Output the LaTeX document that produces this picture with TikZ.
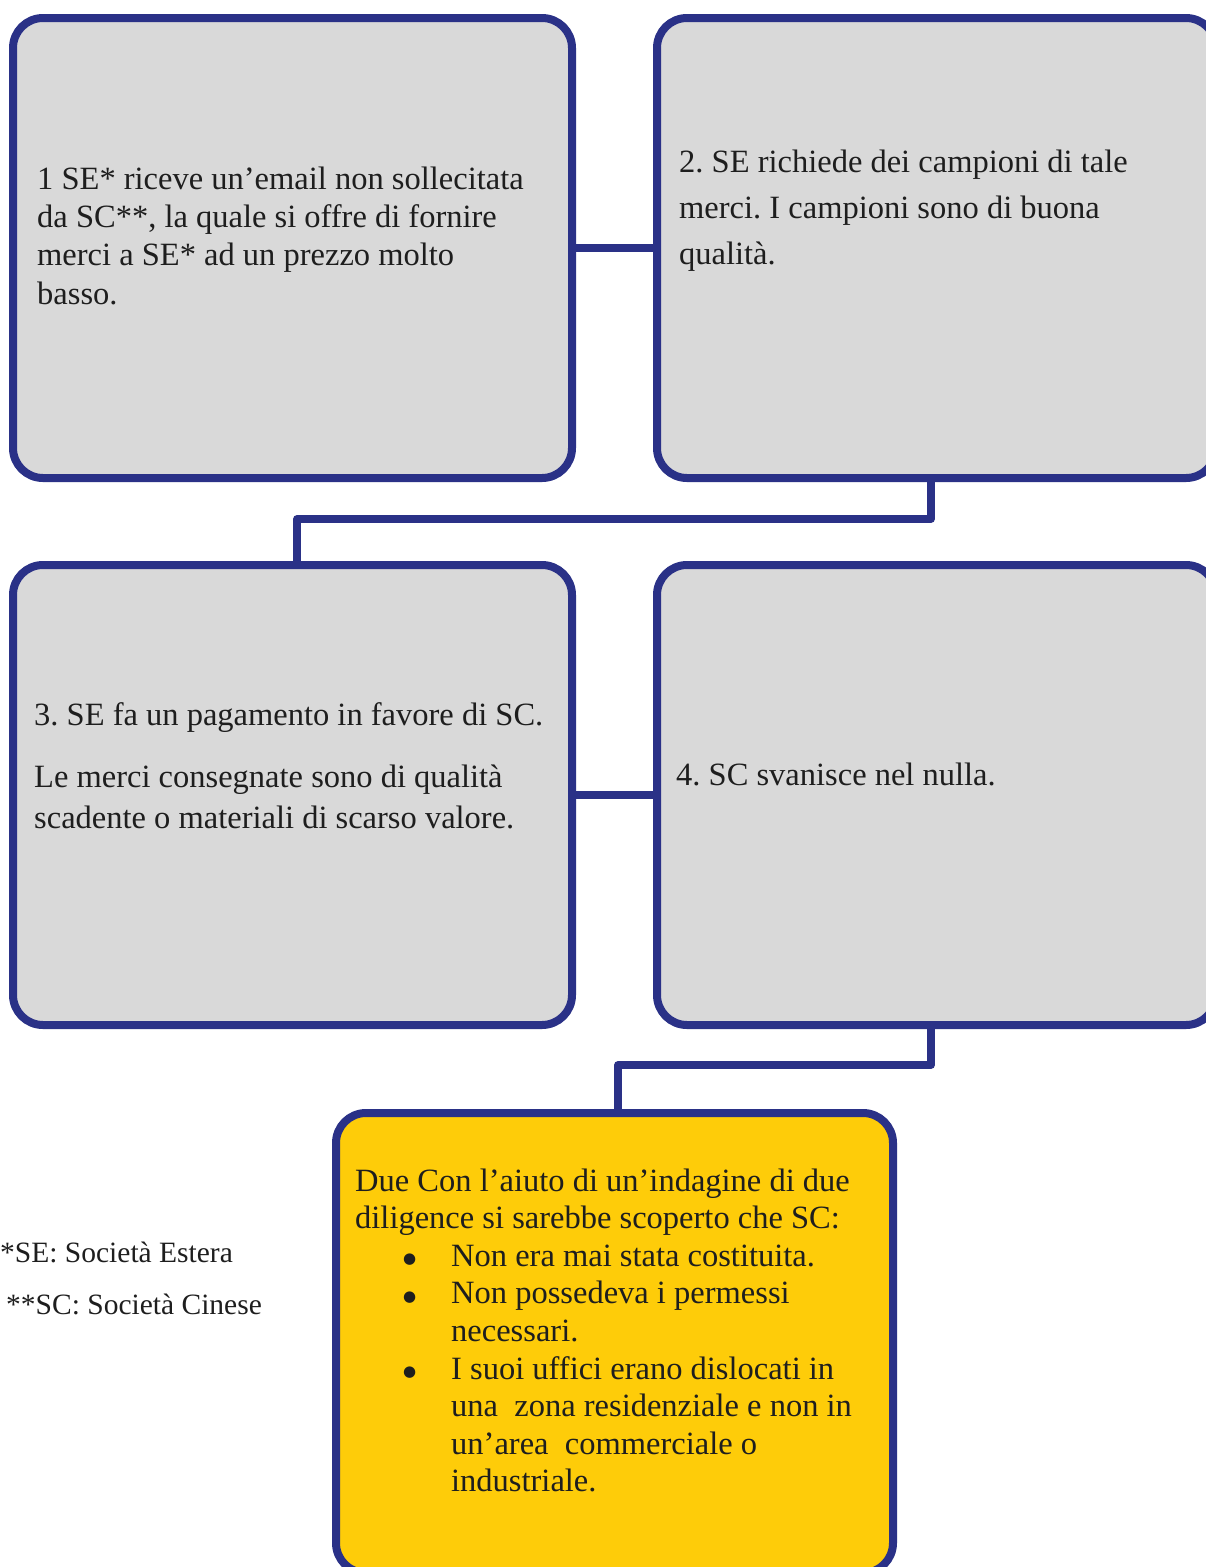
\documentclass[tikz,border=0pt]{standalone}
\usepackage{fontspec}
\setmainfont{Liberation Serif}
\newfontfamily\dejavu{DejaVu Sans}
\definecolor{myblue}{RGB}{42,49,135}
\definecolor{mygray}{RGB}{217,217,217}
\definecolor{myyellow}{RGB}{254,204,9}
\definecolor{mytext}{RGB}{30,30,30}
\newcommand{\boxfont}{\fontsize{32.5}{38.4}\selectfont}
\newcommand{\bul}{\hspace*{48pt}\makebox[48pt][l]{\raisebox{2.5pt}{\dejavu\fontsize{15}{15}\selectfont ●}}}
\begin{document}
\frenchspacing
\begin{tikzpicture}[x=1pt,y=-1pt,
  stepbox/.style={draw=myblue, line width=8pt, fill=mygray, rounded corners=30pt,
    minimum width=559pt, minimum height=460pt, inner sep=0pt, outer sep=0pt, anchor=north west},
  yellowbox/.style={stepbox, fill=myyellow, minimum width=557pt},
  conn/.style={draw=myblue, line width=7.5pt, line join=round},
  txt/.style={anchor=base west, inner sep=0pt, text=mytext, font=\frenchspacing}]
\useasboundingbox (0,0) rectangle (1206,1567);
\clip (0,0) rectangle (1206,1567);
\fill[white] (0,0) rectangle (1206,1567);

\coordinate (j1) at (931,519);
\coordinate (j2) at (297,519);
\coordinate (j3) at (931,1065);
\coordinate (j4) at (618,1065);

\node[stepbox] (b1) at (13,18) {};
\node[stepbox] (b2) at (657,18) {};
\node[stepbox] (b3) at (13,565) {};
\node[stepbox] (b4) at (657,565) {};
\node[yellowbox] (b5) at (336,1113) {};

\draw[conn] (b1.east) -- (b2.west);
\draw[conn] (b2.south -| j1) -- (j1) -- (j2) -- (b3.north -| j2);
\draw[conn] (b3.east) -- (b4.west);
\draw[conn] (b4.south -| j3) -- (j3) -- (j4) -- (b5.north -| j4);

\node[txt] (t1) at (37,189) {\parbox[t]{540pt}{\boxfont\frenchspacing\raggedright
1 SE* riceve un’email non sollecitata\\
da SC**, la quale si offre di fornire\\
merci a SE* ad un prezzo molto\\
basso.}};

\node[txt] (t2) at (679,172) {\parbox[t]{540pt}{\fontsize{32.5}{46}\selectfont\frenchspacing\raggedright
2. SE richiede dei campioni di tale\\
merci. I campioni sono di buona\\
qualità.}};

\node[txt] (t3) at (34,725) {\parbox[t]{540pt}{\fontsize{32.5}{41}\selectfont\frenchspacing\raggedright
3. SE fa un pagamento in favore di SC.\\[21pt]
Le merci consegnate sono di qualità\\
scadente o materiali di scarso valore.}};

\node[txt] (t4) at (676,785) {\boxfont 4. SC svanisce nel nulla.};

\node[txt] (t5) at (355,1191) {\parbox[t]{540pt}{\fontsize{32.5}{37.6}\selectfont\frenchspacing\raggedright
Due Con l’aiuto di un’indagine di due\\
diligence si sarebbe scoperto che SC:\\
\bul Non era mai stata costituita.\\
\bul Non possedeva i permessi\\
\hspace*{96pt}necessari.\\
\bul I suoi uffici erano dislocati in\\
\hspace*{96pt}una\ \ zona residenziale e non in\\
\hspace*{96pt}un’area\ \ commerciale o\\
\hspace*{96pt}industriale.}};

\node[txt] (f1) at (0,1262) {\fontsize{29.5}{35}\selectfont *SE: Società Estera};
\node[txt] (f2) at (6,1314) {\fontsize{29.5}{35}\selectfont **SC: Società Cinese};
\end{tikzpicture}
\end{document}
